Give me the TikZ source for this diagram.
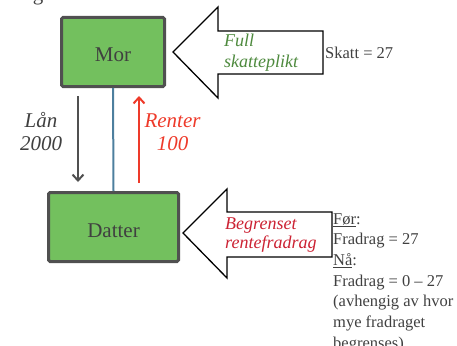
\documentclass[tikz,border=0pt]{standalone}
\usepackage{fontspec}
\setmainfont{Liberation Serif}
\usetikzlibrary{arrows.meta}
\definecolor{boxfill}{RGB}{115,192,94}
\definecolor{boxline}{RGB}{80,80,80}
\definecolor{ink}{RGB}{64,64,64}
\definecolor{linkblue}{RGB}{77,127,158}
\definecolor{flowred}{RGB}{238,58,42}
\definecolor{taxgreen}{RGB}{78,138,62}
\definecolor{limitred}{RGB}{204,34,51}
\tikzset{
  party/.style={draw=boxline, fill=boxfill, line width=3pt, rounded corners=1.5pt,
    text=ink, font=\fontsize{21}{25}\selectfont, text height=20pt, text depth=0pt},
  flow/.style={line width=2pt, -{Straight Barb[length=6pt,width=11pt,line width=2pt]}},
  flowlbl/.style={font=\fontsize{21}{25}\selectfont\itshape, anchor=base},
  bigarrow/.style={draw=black, line width=1.3pt, fill=white, line join=miter},
  arrowlbl/.style={font=\fontsize{18}{21}\selectfont\itshape, anchor=base west, inner sep=0pt},
  note/.style={font=\fontsize{16.5}{20}\selectfont, text=ink, anchor=base west, inner sep=0pt}
}
\begin{document}
\begin{tikzpicture}[x=1pt, y=-1pt]
\useasboundingbox (0,0) rectangle (457,345);

% heading fragment at the top edge
\node[font=\fontsize{21}{25}\selectfont, text=ink, anchor=base, inner sep=0pt] (heading) at (38,0.5) {g};

% the two parties
\node[party, minimum width=103pt, minimum height=69pt] (mor) at (113,52) {Mor};
\node[party, minimum width=130pt, minimum height=69pt] (datter) at (113.5,227) {Datter};

% link between them
\draw[linkblue, line width=2pt] (mor.south) -- (datter.north);

% loan and interest flows
\draw[flow, boxline] ([xshift=-35pt,yshift=-8pt]mor.south) -- ([xshift=-35.5pt,yshift=9pt]datter.north);
\draw[flow, flowred] ([xshift=25.5pt,yshift=8pt]datter.north) -- ([xshift=26pt,yshift=-8pt]mor.south);

\node[flowlbl, text=ink] (lan) at (41,127) {Lån};
\node[flowlbl, text=ink] (lansum) at (41,150) {2000};
\node[flowlbl, text=flowred] (renter) at (172.5,127) {Renter};
\node[flowlbl, text=flowred] (rentesum) at (172.5,150) {100};

% block arrow into Mor
\draw[bigarrow] (173,52) coordinate (taxtip) -- (218,7) -- (218,31) -- (323,31) -- (323,74)
  -- (218,74) -- (218,98) -- cycle;
\node[arrowlbl, text=taxgreen] (full) at (224,46.5) {Full};
\node[arrowlbl, text=taxgreen] (plikt) at (224,67) {skatteplikt};
\node[note] (skatt) at (325,58) {Skatt = 27};

% block arrow into Datter
\draw[bigarrow] (183,233) coordinate (limittip) -- (227,189) -- (227,212) -- (332,212) -- (332,257)
  -- (227,257) -- (227,278) -- cycle;
\node[arrowlbl, text=limitred] (begr) at (225,229.5) {Begrenset};
\node[arrowlbl, text=limitred] (rfrad) at (225,248) {rentefradrag};

% deduction notes
\node[note] (for) at (333,224) {\underline{Før}:};
\node[note] (fr1) at (333,244.7) {Fradrag = 27};
\node[note] (naa) at (333,265.4) {\underline{Nå}:};
\node[note] (fr2) at (333,286) {Fradrag = 0 – 27};
\node[note] (avh) at (333,306.8) {(avhengig av hvor};
\node[note] (mye) at (333,327.5) {mye fradraget};
\node[note] (beg) at (333,348) {begrenses)};
\end{tikzpicture}
\end{document}
